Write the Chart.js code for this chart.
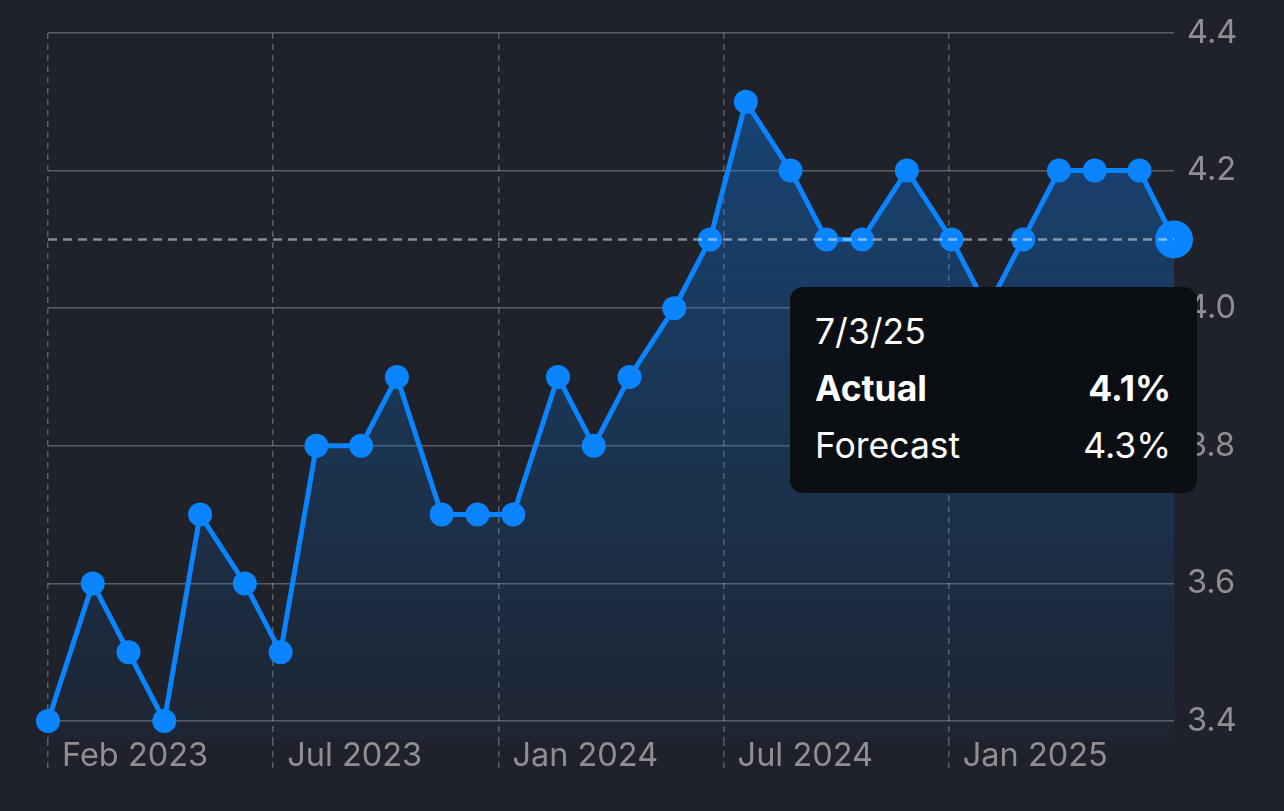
<!DOCTYPE html>
<html>
<head>
<meta charset="utf-8">
<script src="https://cdn.jsdelivr.net/npm/chart.js@4.4.1/dist/chart.umd.min.js"></script>
<style>
  html, body { margin: 0; padding: 0; background: #1f222a; }
  #wrap { position: relative; width: 1284px; height: 811px; overflow: hidden; }
  #tip {
    position: absolute; box-sizing: border-box; width: 407px; height: 206px;
    background: #0b0e12; border-radius: 13px; padding: 16px 26px 0 25px;
    color: #ffffff; font-family: Inter, "Noto Sans", sans-serif; font-size: 35.5px;
    pointer-events: none; display: none;
  }
  #tip .ttl { line-height: 57px; height: 57px; }
  #tip .row { display: flex; justify-content: space-between; line-height: 57px; height: 57px; }
  #tip .bold { font-weight: 700; }
</style>
</head>
<body>
<div id="wrap"><canvas id="c"></canvas><div id="tip"></div></div>
<script>
// ---- data ----
const releaseDates = [
  '2023-02-03','2023-03-10','2023-04-07','2023-05-05','2023-06-02','2023-07-07',
  '2023-08-04','2023-09-01','2023-10-06','2023-11-03','2023-12-08','2024-01-05',
  '2024-02-02','2024-03-08','2024-04-05','2024-05-03','2024-06-07','2024-07-05',
  '2024-08-02','2024-09-06','2024-10-04','2024-11-01','2024-12-06','2025-01-10',
  '2025-02-07','2025-03-07','2025-04-04','2025-05-02','2025-06-06','2025-07-03'
];
const actual = [
  3.4, 3.6, 3.5, 3.4, 3.7, 3.6,
  3.5, 3.8, 3.8, 3.9, 3.7, 3.7,
  3.7, 3.9, 3.8, 3.9, 4.0, 4.1,
  4.3, 4.2, 4.1, 4.1, 4.2, 4.1,
  4.0, 4.1, 4.2, 4.2, 4.2, 4.1
];
const xTickLabels = ['Feb 2023', 'Jul 2023', 'Jan 2024', 'Jul 2024', 'Jan 2025'];
const yTickValues = [3.4, 3.6, 3.8, 4.0, 4.2, 4.4];
const tooltipRowNames = ['Actual', 'Forecast'];
const forecastLatest = 4.3;

// ---- helpers ----
const DAY = 86400000;
const toUTC = s => { const [y, m, d] = s.split('-').map(Number); return Date.UTC(y, m - 1, d); };
const base = toUTC(releaseDates[0]);
const dayIndex = releaseDates.map(s => (toUTC(s) - base) / DAY);
const points = dayIndex.map((x, i) => ({ x: x, y: actual[i] }));
const xMax = dayIndex[dayIndex.length - 1];
const xTickValues = xTickLabels.map((_, i) => i * xMax / xTickLabels.length);
const fmtDate = s => { const [y, m, d] = s.split('-').map(Number); return m + '/' + d + '/' + String(y).slice(2); };

Chart.defaults.font.family = 'Inter, "Noto Sans", sans-serif';

const BLUE = '#0a84ff';
const GRID = 'rgba(255,255,255,0.27)';
const TICK = '#8e8e93';

const lastValueLine = {
  id: 'lastValueLine',
  afterDatasetsDraw(chart) {
    const { ctx, chartArea, scales } = chart;
    const py = scales.y.getPixelForValue(actual[actual.length - 1]);
    ctx.save();
    ctx.setLineDash([9, 6]);
    ctx.lineWidth = 2.5;
    ctx.strokeStyle = 'rgba(255,255,255,0.48)';
    ctx.beginPath();
    ctx.moveTo(chartArea.left, py);
    ctx.lineTo(chartArea.right, py);
    ctx.stroke();
    ctx.restore();
  }
};

const chart = new Chart(document.getElementById('c'), {
  type: 'line',
  data: {
    datasets: [{
      label: 'Actual',
      data: points,
      clip: 24,
      borderColor: BLUE,
      borderWidth: 5,
      tension: 0,
      fill: 'start',
      backgroundColor: (ctx) => {
        const area = ctx.chart.chartArea;
        if (!area) return 'rgba(10,132,255,0.2)';
        const g = ctx.chart.ctx.createLinearGradient(0, area.top, 0, area.bottom);
        g.addColorStop(0, 'rgba(10,132,255,0.38)');
        g.addColorStop(1, 'rgba(10,132,255,0.04)');
        return g;
      },
      pointRadius: 12,
      pointBorderWidth: 0,
      pointBackgroundColor: BLUE,
      pointHoverRadius: 19,
      pointHoverBorderWidth: 0,
      pointHoverBackgroundColor: BLUE
    }]
  },
  options: {
    responsive: true,
    maintainAspectRatio: false,
    animation: false,
    events: [],
    layout: { padding: { left: 48, top: 33, right: 0, bottom: 0 } },
    scales: {
      x: {
        type: 'linear',
        min: 0,
        max: xMax,
        afterBuildTicks: s => { s.ticks = xTickValues.map(v => ({ value: v })); },
        afterFit: s => { s.height = 71; },
        grid: {
          color: GRID, lineWidth: 1.5, drawTicks: true, tickLength: 30,
          tickColor: GRID, tickWidth: 1.5, tickBorderDash: [6, 5]
        },
        border: { display: false, dash: [6, 5] },
        ticks: {
          autoSkip: false, maxRotation: 0, align: 'start', labelOffset: 14, padding: -33,
          color: TICK, font: { size: 32.5 },
          callback: (v, i) => xTickLabels[i]
        }
      },
      y: {
        position: 'right',
        min: 3.4 - 19 / 688,
        max: 4.4,
        afterBuildTicks: s => { s.ticks = yTickValues.map(v => ({ value: v })); },
        afterFit: s => { s.width = 110; },
        grid: { color: GRID, lineWidth: 1.5, drawTicks: false },
        border: { display: false },
        ticks: {
          padding: 13, color: TICK, font: { size: 32.5 },
          callback: v => Number(v).toFixed(1)
        }
      }
    },
    plugins: {
      legend: { display: false },
      tooltip: {
        enabled: false,
        animation: false,
        external: (context) => {
          const t = context.tooltip;
          const el = document.getElementById('tip');
          if (!t.dataPoints || !t.dataPoints.length || t.opacity === 0) { el.style.display = 'none'; return; }
          const i = t.dataPoints[0].dataIndex;
          el.innerHTML =
            '<div class="ttl">' + fmtDate(releaseDates[i]) + '</div>' +
            '<div class="row bold"><span>' + tooltipRowNames[0] + '</span><span>' + actual[i].toFixed(1) + '%</span></div>' +
            '<div class="row"><span>' + tooltipRowNames[1] + '</span><span>' + forecastLatest.toFixed(1) + '%</span></div>';
          el.style.display = 'block';
          el.style.left = (t.caretX - 384) + 'px';
          el.style.top = (t.caretY + 48) + 'px';
        }
      }
    }
  },
  plugins: [lastValueLine]
});

const last = actual.length - 1;
chart.setActiveElements([{ datasetIndex: 0, index: last }]);
const el = chart.getDatasetMeta(0).data[last];
chart.tooltip.setActiveElements([{ datasetIndex: 0, index: last }], { x: el.x, y: el.y });
chart.update();
</script>
</body>
</html>
